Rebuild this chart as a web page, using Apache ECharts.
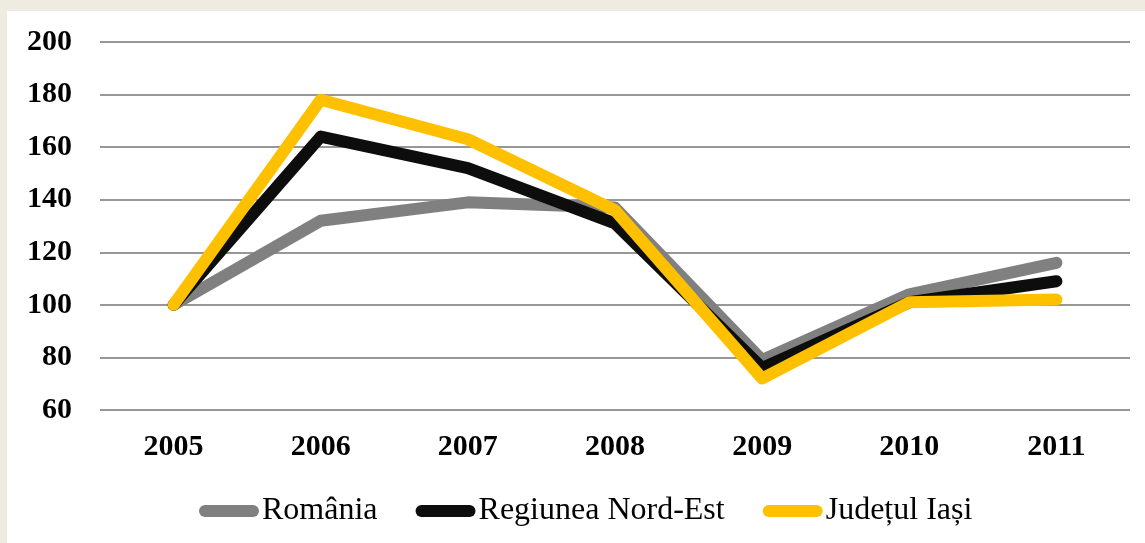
<!DOCTYPE html>
<html>
<head>
<meta charset="utf-8">
<script src="https://cdn.jsdelivr.net/npm/echarts@6/dist/echarts.min.js"></script>
<style>
  html, body { margin: 0; padding: 0; background: #eeebe0; }
  #chart { position: absolute; left: 7px; top: 11px; width: 1138px; height: 532px; background: #fff; }
</style>
</head>
<body>
<div id="chart"></div>
<script>
const years = ['2005', '2006', '2007', '2008', '2009', '2010', '2011'];
const romania = [100, 132, 139, 137, 79, 104, 116];
const nordEst = [100, 164, 152, 131, 76, 101, 109];
const iasi = [100, 178, 163, 136, 72, 101, 102];

const font = 'Liberation Serif, Times New Roman, serif';
const capsule = 'path://M6,0 L54,0 A6,6 0 0 1 54,12 L6,12 A6,6 0 0 1 6,0 Z';

const chart = echarts.init(document.getElementById('chart'));

function line(name, data, color) {
    return {
        name: name,
        type: 'line',
        data: data,
        showSymbol: false,
        symbol: 'none',
        lineStyle: {color: color, width: 12, cap: 'round', join: 'round'},
        itemStyle: {color: color},
        animation: false
    };
}

chart.setOption({
    grid: {left: 93, right: 15, top: 31, bottom: 133},
    legend: {
        top: 479,
        left: 187,
        itemWidth: 60,
        itemHeight: 12,
        itemGap: 38,
        icon: capsule,
        textStyle: {fontFamily: font, fontSize: 32, color: '#000', padding: [0, 0, 0, -2]},
        data: ['România', 'Regiunea Nord-Est', 'Județul Iași']
    },
    xAxis: {
        type: 'category',
        data: years,
        boundaryGap: true,
        axisLine: {show: false},
        axisTick: {show: false},
        axisLabel: {fontFamily: font, fontSize: 30, fontWeight: 'bold', color: '#000', margin: 22}
    },
    yAxis: {
        type: 'value',
        min: 60,
        max: 200,
        interval: 20,
        axisLine: {show: false},
        axisTick: {show: false},
        axisLabel: {fontFamily: font, fontSize: 30, fontWeight: 'bold', color: '#000', margin: 28},
        splitLine: {lineStyle: {color: '#979797', width: 2}}
    },
    series: [
        line('România', romania, '#808080'),
        line('Regiunea Nord-Est', nordEst, '#0d0d0d'),
        line('Județul Iași', iasi, '#ffc000')
    ]
});
</script>
</body>
</html>
